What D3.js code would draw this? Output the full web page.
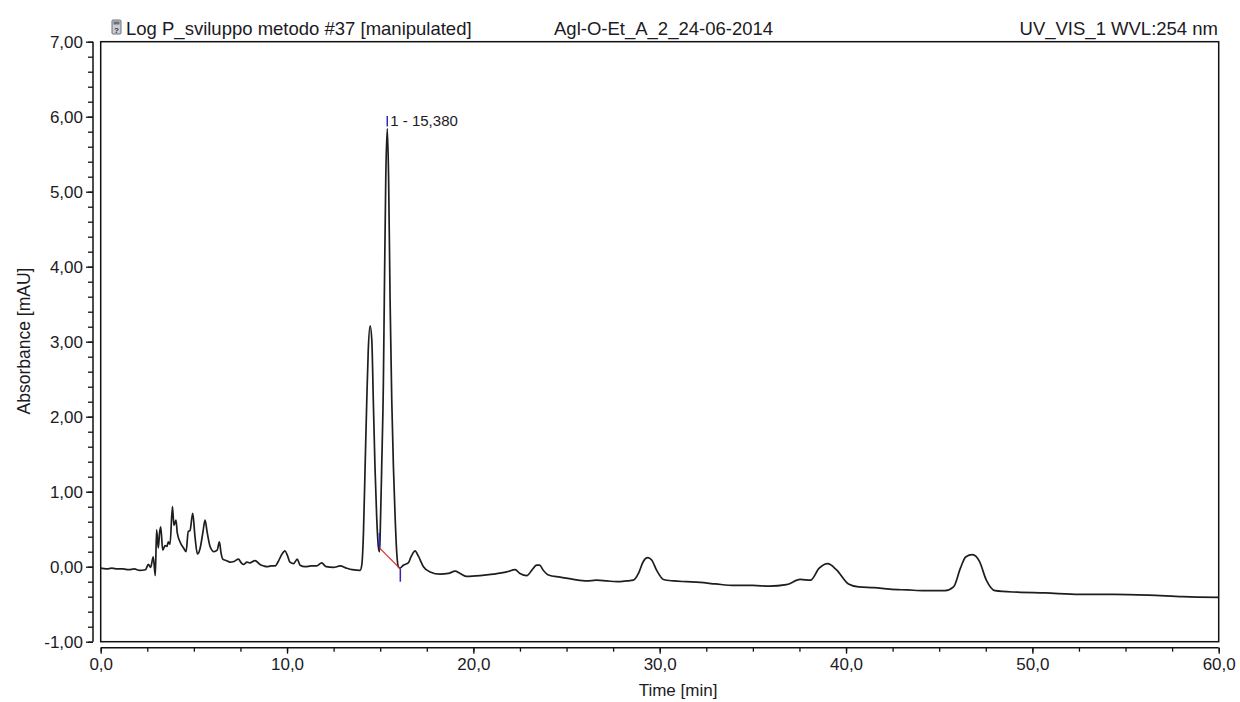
<!DOCTYPE html>
<html>
<head>
<meta charset="utf-8">
<script src="https://cdn.jsdelivr.net/npm/d3@7"></script>
<style>
  html, body { margin: 0; padding: 0; background: #fff; }
  svg { display: block; font-family: "Liberation Sans", Arial, sans-serif; }
</style>
</head>
<body>
<svg id="chart" width="1240" height="702"></svg>
<script>
// Chromatogram trace: retention time (min) and absorbance (mAU)
const timeMin = [
  0.0, 0.3, 0.6, 0.9, 1.2, 1.5, 1.8, 2.1, 2.4, 2.56, 2.68, 2.82, 2.93, 3.00, 3.09, 3.16, 3.22, 3.33,
  3.45, 3.55, 3.63, 3.72, 3.85, 3.93, 4.04, 4.11, 4.26, 4.47, 4.58, 4.70, 4.79, 4.94, 5.06, 5.19,
  5.33, 5.48, 5.60, 5.72, 5.87, 6.08, 6.25, 6.37, 6.46, 6.55, 6.76, 6.94, 7.15, 7.39, 7.55, 7.66,
  7.85, 8.0, 8.28, 8.55, 8.75, 8.91, 9.15, 9.36, 9.53, 9.71, 9.89, 10.02, 10.16, 10.35, 10.55, 10.70,
  10.97, 11.3, 11.59, 11.86, 12.1, 12.49, 12.85, 13.2, 13.5, 13.92, 14.01, 14.10, 14.19, 14.28, 14.36,
  14.46, 14.55, 14.63, 14.72, 14.81, 14.90, 14.96, 15.00, 15.08, 15.17, 15.22, 15.30, 15.38, 15.45,
  15.53, 15.62, 15.71, 15.80, 15.89, 15.97, 16.06, 16.24, 16.51, 16.65, 16.78, 16.87, 17.05, 17.32,
  17.68, 18.21, 18.66, 19.02, 19.29, 19.65, 20.36, 21.07, 21.79, 22.24, 22.5, 22.87, 23.13, 23.4,
  23.55, 23.76, 24.03, 24.65, 25.37, 26.09, 26.6, 27.16, 27.7, 28.23, 28.59, 28.86, 29.12, 29.36, 29.57,
  29.84, 30.2, 30.74, 31.45, 32.17, 33.0, 34.0, 35.0, 35.87, 36.8, 37.54, 38.09, 38.56, 39.02, 39.48,
  40.13, 40.68, 41.5, 42.35, 43.3, 44.2, 45.31, 45.77, 46.14, 46.42, 46.79, 47.16, 47.53, 47.99,
  49.2, 50.68, 52.53, 54.38, 56.23, 58.08, 60.0
];
const absorbance = [
  -0.02, -0.03, -0.02, -0.03, -0.03, -0.04, -0.03, -0.05, -0.04, 0.03, -0.01, 0.13, -0.12, 0.49, 0.25, 0.45, 0.53, 0.22,
  0.28, 0.27, 0.33, 0.30, 0.80, 0.55, 0.62, 0.45, 0.33, 0.24, 0.20, 0.47, 0.48, 0.71, 0.40, 0.17,
  0.24, 0.45, 0.62, 0.45, 0.27, 0.20, 0.22, 0.33, 0.18, 0.10, 0.08, 0.06, 0.07, 0.10, 0.05, 0.03,
  0.06, 0.05, 0.08, 0.03, 0.01, 0.00, 0.01, 0.01, 0.07, 0.16, 0.21, 0.15, 0.06, 0.04, 0.10, 0.02,
  0.00, 0.01, 0.01, 0.05, 0.00, -0.01, 0.01, -0.02, -0.04, -0.05, 0.02, 0.44, 1.33, 2.22, 2.89,
  3.21, 3.02, 2.22, 1.33, 0.67, 0.27, 0.20, 0.45, 1.33, 2.44, 3.56, 5.20, 5.84, 5.20,
  3.56, 2.22, 1.33, 0.67, 0.18, 0.00, -0.02, 0.02, 0.05, 0.13, 0.19, 0.21, 0.14, 0.00,
  -0.07, -0.10, -0.09, -0.06, -0.09, -0.13, -0.12, -0.10, -0.07, -0.04, -0.09, -0.12, -0.05, 0.02,
  0.02, -0.05, -0.11, -0.14, -0.17, -0.19, -0.18, -0.19, -0.20, -0.19, -0.18, -0.09, 0.07, 0.12, 0.09,
  -0.05, -0.17, -0.19, -0.20, -0.21, -0.23, -0.25, -0.25, -0.26, -0.24, -0.17, -0.18, -0.02, 0.04, -0.04,
  -0.23, -0.27, -0.28, -0.30, -0.31, -0.32, -0.32, -0.27, -0.02, 0.13, 0.16, 0.07, -0.18, -0.32,
  -0.34, -0.35, -0.37, -0.37, -0.38, -0.40, -0.41
];

// Integration baseline of peak 1 (start / end) and the peak apex label
const baselineTime = [14.96, 16.08];
const baselineAbs = [0.25, -0.03];
const peakRetention = 15.38;
const peakLabel = "1 - 15,380";

// Axis ticks
const xMajorTicks = [0, 10, 20, 30, 40, 50, 60];
const yMajorTicks = [-1, 0, 1, 2, 3, 4, 5, 6, 7];

// Header texts
const headerLeft = "Log P_sviluppo metodo #37 [manipulated]";
const headerCenter = "Agl-O-Et_A_2_24-06-2014";
const headerRight = "UV_VIS_1 WVL:254 nm";

const svg = d3.select("#chart");
const plot = { left: 100.7, right: 1218.7, top: 41.7, bottom: 641.7 };

const x = d3.scaleLinear().domain([0, 60]).range([plot.left, plot.right]);
const y = d3.scaleLinear().domain([-1, 7]).range([plot.bottom, plot.top]);

const commaFmt = d => d.toFixed(2).replace(".", ",");
const commaFmt1 = d => d.toFixed(1).replace(".", ",");
const textColor = "#1c1a24";

// Plot frame
svg.append("rect")
  .attr("x", plot.left).attr("y", plot.top)
  .attr("width", plot.right - plot.left).attr("height", plot.bottom - plot.top)
  .attr("fill", "none").attr("stroke", "#111").attr("stroke-width", 1.5);

// Y axis, detached to the left of the frame
const yAxisX = 93;
const yMinor = d3.range(-1, 7.001, 0.2).map(v => +v.toFixed(2));
const gyMinor = svg.append("g").attr("transform", `translate(${yAxisX},0)`)
  .call(d3.axisLeft(y).tickValues(yMinor).tickSize(5).tickFormat(""));
const gy = svg.append("g").attr("transform", `translate(${yAxisX},0)`)
  .call(d3.axisLeft(y).tickValues(yMajorTicks).tickSize(7).tickPadding(3).tickFormat(commaFmt));

// X axis, detached below the frame
const xAxisY = 647.7;
const xMinor = d3.range(0, 60.001, 2.5);
const gxMinor = svg.append("g").attr("transform", `translate(0,${xAxisY})`)
  .call(d3.axisBottom(x).tickValues(xMinor).tickSize(4).tickFormat(""));
const gx = svg.append("g").attr("transform", `translate(0,${xAxisY})`)
  .call(d3.axisBottom(x).tickValues(xMajorTicks).tickSize(6).tickPadding(4).tickFormat(commaFmt1));

[gy, gyMinor, gx, gxMinor].forEach(g => {
  g.select(".domain").attr("stroke", "#111").attr("stroke-width", 1.5);
  g.selectAll(".tick line").attr("stroke", "#111").attr("stroke-width", 1.3);
  g.selectAll(".tick text").attr("fill", textColor).style("font-size", "17px")
    .style("font-family", "'Liberation Sans', Arial, sans-serif");
});
// Flat domain ends (no outer tick hooks)
gy.select(".domain").attr("d", `M0,${y(7)}V${y(-1)}`);
gyMinor.select(".domain").remove();
gx.select(".domain").attr("d", `M${x(0)},0H${x(60)}`);
gxMinor.select(".domain").remove();

// Axis titles
svg.append("text")
  .attr("transform", "translate(30,341) rotate(-90)")
  .attr("text-anchor", "middle").attr("fill", textColor).style("font-size", "17.5px")
  .text("Absorbance [mAU]");
svg.append("text")
  .attr("x", 678).attr("y", 696)
  .attr("text-anchor", "middle").attr("fill", textColor).style("font-size", "17px")
  .text("Time [min]");

// Header row
const icon = svg.append("g").attr("transform", "translate(112,20)");
icon.append("rect").attr("width", 9).attr("height", 14).attr("rx", 1)
  .attr("fill", "#c9ccd2").attr("stroke", "#6d7079").attr("stroke-width", 1);
icon.append("rect").attr("x", 1.5).attr("y", 1.5).attr("width", 6).attr("height", 3).attr("fill", "#6d7079");
icon.append("text").attr("x", 4.5).attr("y", 12.5).attr("text-anchor", "middle")
  .style("font-size", "8px").style("font-weight", "bold").attr("fill", "#333").text("?");

svg.append("text").attr("x", 126).attr("y", 35).attr("fill", textColor).style("font-size", "18.5px").text(headerLeft);
svg.append("text").attr("x", 554).attr("y", 35).attr("fill", textColor).style("font-size", "18.5px").text(headerCenter);
svg.append("text").attr("x", 1218).attr("y", 35).attr("text-anchor", "end").attr("fill", textColor).style("font-size", "18.5px").text(headerRight);

// Chromatogram trace
const pts = timeMin.map((t, i) => [t, absorbance[i]]);
const line = d3.line().x(d => x(d[0])).y(d => y(d[1])).curve(d3.curveMonotoneX);
svg.append("path").datum(pts)
  .attr("d", line)
  .attr("fill", "none").attr("stroke", "#1e1e1e").attr("stroke-width", 1.7)
  .attr("stroke-linejoin", "round");

// Integration baseline (red) with start/end delimiters (blue)
svg.append("line")
  .attr("x1", x(baselineTime[0])).attr("y1", y(baselineAbs[0]))
  .attr("x2", x(baselineTime[1])).attr("y2", y(baselineAbs[1]))
  .attr("stroke", "#d42a2a").attr("stroke-width", 1.2);
svg.append("line")
  .attr("x1", x(baselineTime[0])).attr("y1", y(baselineAbs[0]))
  .attr("x2", x(baselineTime[0])).attr("y2", y(baselineAbs[0] + 0.2))
  .attr("stroke", "#2a2ab0").attr("stroke-width", 1.5);
svg.append("line")
  .attr("x1", x(baselineTime[1])).attr("y1", y(baselineAbs[1]))
  .attr("x2", x(baselineTime[1])).attr("y2", y(baselineAbs[1] - 0.17))
  .attr("stroke", "#2a2ab0").attr("stroke-width", 1.5);

// Peak apex marker and label
const apexAbs = absorbance[timeMin.indexOf(peakRetention)];
svg.append("line")
  .attr("x1", x(peakRetention)).attr("y1", y(apexAbs + 0.03))
  .attr("x2", x(peakRetention)).attr("y2", y(apexAbs + 0.17))
  .attr("stroke", "#2a2ab0").attr("stroke-width", 1.5);
svg.append("text")
  .attr("x", x(peakRetention) + 3).attr("y", y(apexAbs + 0.04))
  .attr("fill", textColor).style("font-size", "15px")
  .text(peakLabel);
</script>
</body>
</html>
